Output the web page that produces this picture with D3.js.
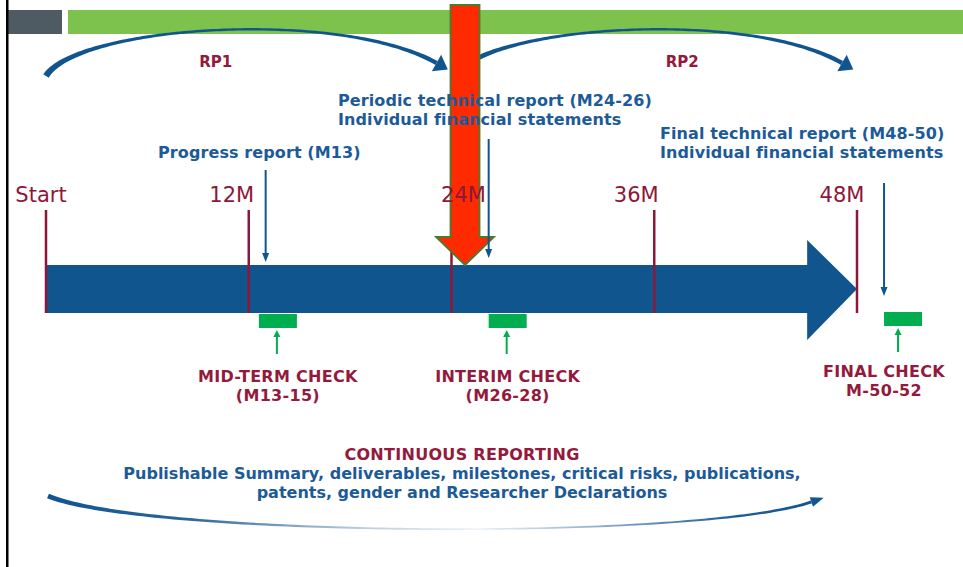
<!DOCTYPE html>
<html>
<head>
<meta charset="utf-8">
<script src="https://cdn.jsdelivr.net/npm/d3@7/dist/d3.min.js"></script>
<style>
  html, body { margin: 0; padding: 0; background: #ffffff; }
  svg { display: block; }
  text { font-family: "DejaVu Sans", Verdana, sans-serif; }
</style>
</head>
<body>
<svg id="chart" width="963" height="567"></svg>
<script>
// ---------------- DATA ----------------
const tickMonths = [0, 12, 24, 36, 48];
const tickLabels = ["Start", "12M", "24M", "36M", "48M"];

const periodNames = ["RP1", "RP2"];
const periodStart = [0, 24];
const periodEnd = [24, 48];

const reportMonths = [13, 26.2, 49.6];
const reportLines = [
  ["Progress report (M13)"],
  ["Periodic technical report (M24-26)", "Individual financial statements"],
  ["Final technical report (M48-50)", "Individual financial statements"]
];

const checkStart = [12.6, 26.2, 49.6];
const checkEnd = [14.85, 28.45, 51.85];
const checkLines = [
  ["MID-TERM CHECK", "(M13-15)"],
  ["INTERIM CHECK", "(M26-28)"],
  ["FINAL CHECK", "M-50-52"]
];

const highlightMonth = 24.8;   // big red arrow ("now")

const continuousTitle = "CONTINUOUS REPORTING";
const continuousLines = [
  "Publishable Summary, deliverables, milestones, critical risks, publications,",
  "patents, gender and Researcher Declarations"
];

// ---------------- LAYOUT / STYLE ----------------
const W = 963, H = 567;
const C = {
  red: "#931a3d",
  tick: "#8c1739",
  blue: "#11558f",
  textBlue: "#1c5a98",
  green: "#00ae4f",
  lime: "#7cc24c",
  gray: "#4f5b62",
  arrowRed: "#ff2a00",
  arrowEdge: "#4d7a2c"
};
const svg = d3.select("#chart");
const x = d3.scaleLinear().domain([0, 48]).range([46, 857]);

const barTop = 265, barBot = 313, headTop = 240, headBot = 340, headStartMonth = 45.05;
const tickTop = 210;
const tickLabelDx = [-5, -17, 12, -18, -15];
const tickLabelY = 202;
const rpLabelDx = [-33, 28];

const defs = svg.append("defs");
const grad = defs.append("linearGradient")
  .attr("id", "fade").attr("gradientUnits", "userSpaceOnUse")
  .attr("x1", 48).attr("y1", 0).attr("x2", 830).attr("y2", 0);
[[0, "#10548f"], [0.18, "#2d659c"], [0.4, "#b9cce0"], [0.55, "#eef3f8"], [0.72, "#86a6c8"], [0.88, "#1d5d98"], [1, "#10548f"]]
  .forEach(([o, c]) => grad.append("stop").attr("offset", o).attr("stop-color", c));

// ---------------- header band ----------------
svg.append("rect").attr("x", 8).attr("y", 10).attr("width", 54).attr("height", 24).attr("fill", C.gray);
svg.append("rect").attr("x", 68).attr("y", 10).attr("width", W - 68).attr("height", 24).attr("fill", C.lime);
svg.append("rect").attr("x", 6).attr("y", 0).attr("width", 2.5).attr("height", H).attr("fill", "#000");

// ---------------- tapered curved arrows ----------------
function cubic(p, t) {
  const u = 1 - t;
  return [
    u*u*u*p[0][0] + 3*u*u*t*p[1][0] + 3*u*t*t*p[2][0] + t*t*t*p[3][0],
    u*u*u*p[0][1] + 3*u*u*t*p[1][1] + 3*u*t*t*p[2][1] + t*t*t*p[3][1]
  ];
}
function dcubic(p, t) {
  const u = 1 - t;
  return [
    3*u*u*(p[1][0]-p[0][0]) + 6*u*t*(p[2][0]-p[1][0]) + 3*t*t*(p[3][0]-p[2][0]),
    3*u*u*(p[1][1]-p[0][1]) + 6*u*t*(p[2][1]-p[1][1]) + 3*t*t*(p[3][1]-p[2][1])
  ];
}
function taperedArrow(p, w0, wm, w1, headLen, headHalf, fill) {
  const N = 120, left = [], right = [];
  for (let i = 0; i <= N; i++) {
    const t = i / N;
    const b = cubic(p, t), d = dcubic(p, t);
    const L = Math.hypot(d[0], d[1]);
    const n = [-d[1] / L, d[0] / L];
    const w = wm + (w0 - wm) * Math.pow(1 - t, 3) + (w1 - wm) * Math.pow(t, 3);
    left.push([b[0] + n[0] * w / 2, b[1] + n[1] * w / 2]);
    right.push([b[0] - n[0] * w / 2, b[1] - n[1] * w / 2]);
  }
  const poly = left.concat(right.reverse());
  svg.append("path").attr("d", d3.line()(poly) + "Z").attr("fill", fill);
  const e = p[3], d = dcubic(p, 1), L = Math.hypot(d[0], d[1]);
  const u = [d[0] / L, d[1] / L], n = [-u[1], u[0]];
  const head = [
    [e[0] + n[0] * headHalf, e[1] + n[1] * headHalf],
    [e[0] + u[0] * headLen, e[1] + u[1] * headLen],
    [e[0] - n[0] * headHalf, e[1] - n[1] * headHalf]
  ];
  svg.append("path").attr("d", d3.line()(head) + "Z").attr("fill", fill);
}

// RP arcs (spanning each reporting period)
periodStart.forEach((s, i) => {
  const x0 = x(s) + (i === 0 ? 0 : 3);
  const x1 = x(periodEnd[i]) - 15;
  const span = x1 - x0;
  taperedArrow([[x0, 76], [x0 + span * 0.08, 26], [x0 + span * 0.75, 8], [x1, 63]],
    6.5, 1.4, 4.5, 13, 9.5, C.blue);
});

// RP labels
svg.selectAll(".rp").data(periodNames).enter().append("text")
  .attr("x", (d, i) => x((periodStart[i] + periodEnd[i]) / 2) + rpLabelDx[i])
  .attr("y", 67).attr("text-anchor", "middle")
  .attr("font-size", 15).attr("font-weight", "bold").attr("fill", C.red)
  .text(d => d);

// continuous reporting arc (bottom)
taperedArrow([[x(0) + 2, 496], [x(6), 537], [x(38.5), 541], [x(45.3), 502]],
  5, 1, 3, 13, 5, "url(#fade)");

// ---------------- timeline arrow ----------------
const tl = [
  [x(0), barTop], [x(headStartMonth), barTop], [x(headStartMonth), headTop],
  [x(48), (barTop + barBot) / 2],
  [x(headStartMonth), headBot], [x(headStartMonth), barBot], [x(0), barBot]
];
svg.append("path").attr("d", d3.line()(tl) + "Z").attr("fill", C.blue);

// ticks
svg.selectAll(".tick").data(tickMonths).enter().append("line")
  .attr("x1", d => x(d)).attr("x2", d => x(d))
  .attr("y1", tickTop).attr("y2", barBot)
  .attr("stroke", C.tick).attr("stroke-width", 2.5);

// ---------------- check boxes & green arrows ----------------
const checkY = [314, 314, 312];
svg.selectAll(".check").data(checkStart).enter().append("rect")
  .attr("x", d => x(d)).attr("y", (d, i) => checkY[i])
  .attr("width", (d, i) => x(checkEnd[i]) - x(d)).attr("height", 14)
  .attr("fill", C.green);

function vArrow(xp, yFrom, yTo, color, hw, hl) {
  const dir = yTo > yFrom ? 1 : -1;
  svg.append("line").attr("x1", xp).attr("x2", xp)
    .attr("y1", yFrom).attr("y2", yTo - dir * hl).attr("stroke", color).attr("stroke-width", 2);
  svg.append("path").attr("d", d3.line()([[xp - hw, yTo - dir * hl], [xp, yTo], [xp + hw, yTo - dir * hl]]) + "Z")
    .attr("fill", color);
}
checkStart.forEach((s, i) => {
  const cx = (x(s) + x(checkEnd[i])) / 2 - 1 - (i === 2 ? 4 : 0);
  vArrow(cx, checkY[i] + 40, checkY[i] + 16, C.green, 3.5, 7);
});

// ---------------- red highlight arrow ----------------
const hx = x(highlightMonth);
const red = [
  [hx - 14.5, 5], [hx + 14.5, 5], [hx + 14.5, 237], [hx + 29, 237],
  [hx, 265], [hx - 29, 237], [hx - 14.5, 237]
];
svg.append("path").attr("d", d3.line()(red) + "Z")
  .attr("fill", C.arrowRed).attr("stroke", C.arrowEdge).attr("stroke-width", 1.8);

// ---------------- report arrows (blue, down) ----------------
const reportTop = [170, 139, 183];
const reportBottom = [262, 258, 296];
reportMonths.forEach((m, i) => {
  vArrow(x(m), reportTop[i], reportBottom[i], C.blue, 3.5, 9);
});

// tick labels (drawn above red arrow)
svg.selectAll(".tl").data(tickLabels).enter().append("text")
  .attr("x", (d, i) => x(tickMonths[i]) + tickLabelDx[i])
  .attr("y", tickLabelY).attr("text-anchor", "middle")
  .attr("font-size", 21).attr("fill", C.tick)
  .text(d => d);

// report texts
const reportTextX = [158, 338, 660];
const reportTextY = [158, 106, 139];
reportLines.forEach((lines, i) => {
  lines.forEach((ln, j) => {
    svg.append("text").attr("x", reportTextX[i]).attr("y", reportTextY[i] + j * 19)
      .attr("font-size", 16).attr("font-weight", "bold").attr("fill", C.textBlue)
      .attr("letter-spacing", 0.1)
      .text(ln);
  });
});

// check labels
const checkLabelY = [382, 382, 377];
checkLines.forEach((lines, i) => {
  const cx = (x(checkStart[i]) + x(checkEnd[i])) / 2 - (i === 2 ? 19 : 0);
  lines.forEach((ln, j) => {
    svg.append("text").attr("x", cx).attr("y", checkLabelY[i] + j * 19)
      .attr("text-anchor", "middle")
      .attr("font-size", 16).attr("font-weight", "bold").attr("fill", C.red)
      .attr("letter-spacing", 0.3)
      .text(ln);
  });
});

// continuous reporting
svg.append("text").attr("x", 462).attr("y", 460).attr("text-anchor", "middle")
  .attr("font-size", 16).attr("font-weight", "bold").attr("fill", C.red)
  .attr("letter-spacing", 0.3)
  .text(continuousTitle);
continuousLines.forEach((ln, j) => {
  svg.append("text").attr("x", 462).attr("y", 479 + j * 19).attr("text-anchor", "middle")
    .attr("font-size", 16).attr("font-weight", "bold").attr("fill", C.textBlue)
    .text(ln);
});
</script>
</body>
</html>
